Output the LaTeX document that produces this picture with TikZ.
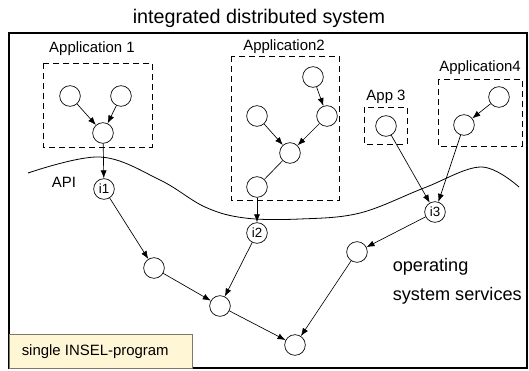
\documentclass[tikz,border=0pt]{standalone}
\usepackage{fontspec}
\setmainfont{Liberation Sans}
\usetikzlibrary{arrows.meta}
\definecolor{inselfill}{RGB}{255,246,214}
\definecolor{inseldraw}{RGB}{130,118,100}

\begin{document}
\begin{tikzpicture}[x=0.75pt,y=-0.75pt,
  proc/.style={circle,draw,minimum size=15.5pt,inner sep=0pt},
  iface/.style={circle,draw,minimum size=15.5pt,inner sep=0pt,font=\fontsize{10}{12}\selectfont},
  appbox/.style={draw,dash pattern=on 4.5pt off 3pt,line width=0.6pt},
  lbl/.style={font=\fontsize{11.2}{13}\selectfont},
  flow/.style={-{Latex[length=6pt,width=4.5pt]},line width=0.5pt},
  line width=0.5pt]
\useasboundingbox (0,0) rectangle (529,371);
\node[font=\fontsize{14.8}{17}\selectfont] (title) at (259,18) {integrated distributed system};
\draw[line width=0.9pt] (9,33) rectangle (527,368);
\draw[fill=inselfill,draw=inseldraw,line width=0.6pt] (9,334) rectangle (192,368);
\node[lbl,anchor=west] (insel) at (17,352) {single INSEL-program};

\draw[line width=0.6pt] plot[smooth,tension=0.6] coordinates {(28,173) (100,157) (160,180) (205,207) (245,218) (300,219) (360,213) (424,188) (481,167) (519,187)};
\node[lbl] (api) at (64,182) {API};

\draw[appbox] (43,63) rectangle (152,147);
\node[lbl] (app1) at (92,49) {Application 1};
\draw[appbox] (231,56) rectangle (339,200);
\node[lbl] (app2) at (284,47) {Application2};
\draw[appbox] (364,107) rectangle (407,144);
\node[lbl] (app3) at (386,97) {App 3};
\draw[appbox] (438,79) rectangle (522,146);
\node[lbl] (app4) at (480,68) {Application4};

\node[proc] (a1) at (70,96) {};
\node[proc] (a2) at (121,96) {};
\node[proc] (a3) at (103,133) {};
\node[proc] (b1) at (313,77) {};
\node[proc] (b2) at (327,116) {};
\node[proc] (b3) at (257,116) {};
\node[proc] (b4) at (290,153) {};
\node[proc] (b5) at (257,187) {};
\node[proc] (c1) at (386,126) {};
\node[proc] (d1) at (499,97) {};
\node[proc] (d2) at (464,125) {};

\node[iface] (i1) at (104,189) {i1};
\node[iface] (i2) at (257,233) {i2};
\node[iface] (i3) at (435,212) {i3};

\node[proc] (e1) at (154,268) {};
\node[proc] (e2) at (220,306) {};
\node[proc] (e3) at (357,252) {};
\node[proc] (e4) at (295,345) {};

\node[font=\fontsize{13.6}{16}\selectfont,anchor=west] (os1) at (388,267) {operating};
\node[font=\fontsize{13.6}{16}\selectfont,anchor=west] (os2) at (388,296) {system services};

\draw[flow] (a1) -- (a3);
\draw[flow] (a2) -- (a3);
\draw[flow] (a3) -- (i1);
\draw[flow] (b1) -- (b2);
\draw[flow] (b3) -- (b4);
\draw[flow] (b2) -- (b4);
\draw (b4) -- (b5);
\draw[flow] (b5) -- (i2);
\draw[flow] (d1) -- (d2);
\draw[flow] (c1) -- (i3);
\draw[flow] (d2) -- (i3);
\draw[flow] (i1) -- (e1);
\draw[flow] (e1) -- (e2);
\draw[flow] (i2) -- (e2);
\draw[flow] (e2) -- (e4);
\draw[flow] (i3) -- (e3);
\draw[flow] (e3) -- (e4);
\end{tikzpicture}
\end{document}
